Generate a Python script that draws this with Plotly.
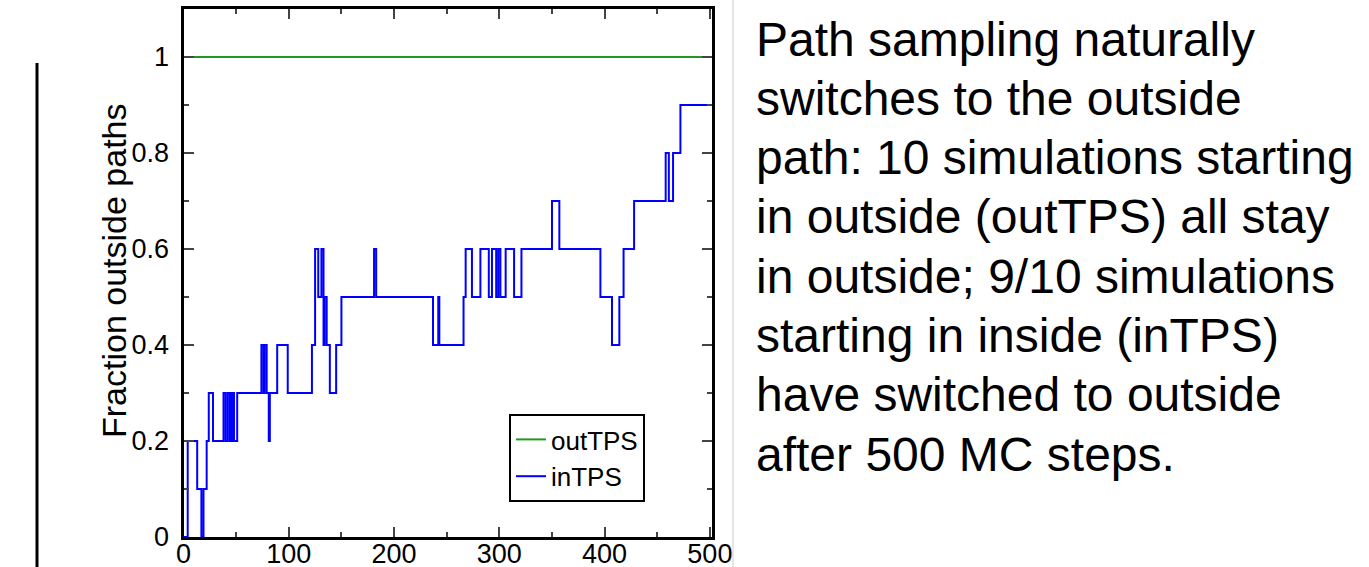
import plotly.graph_objects as go

W, H = 1369, 567


def px(x):
    return x / W


def py(y):
    return 1 - y / H


# ---- data ----
out_x = [0, 500]
out_y = [1.0, 1.0]

# inTPS: step change points (MC step, fraction)
in_x = [0, 4, 13, 17, 19, 22, 24, 28, 38, 40, 42, 44, 45, 46, 47, 48, 51,
        74, 76, 77, 79, 81, 82, 89, 99, 122, 125, 128, 131, 133, 134, 136,
        139, 145, 150, 181, 183, 237, 242, 243, 266, 268, 274, 282, 290,
        293, 297, 299, 301, 306, 314, 321, 350, 357, 396, 407, 414, 418,
        428, 458, 461, 465, 472, 500]
in_y = [0.0, 0.2, 0.1, 0.0, 0.1, 0.2, 0.3, 0.2, 0.3, 0.2, 0.3, 0.2, 0.3, 0.2, 0.3, 0.2, 0.3,
        0.4, 0.3, 0.4, 0.3, 0.2, 0.3, 0.4, 0.3, 0.4, 0.6, 0.5, 0.6, 0.4, 0.5, 0.4,
        0.3, 0.4, 0.5, 0.6, 0.5, 0.4, 0.5, 0.4, 0.5, 0.6, 0.5, 0.6, 0.5,
        0.6, 0.5, 0.6, 0.5, 0.6, 0.5, 0.6, 0.7, 0.6, 0.5, 0.4, 0.5, 0.6,
        0.7, 0.8, 0.7, 0.8, 0.9, 0.9]

x_ticks = [0, 100, 200, 300, 400, 500]
y_ticks = [0, 0.2, 0.4, 0.6, 0.8, 1.0]
y_tick_text = ["0", "0.2", "0.4", "0.6", "0.8", "1"]

text_lines = [
    "Path sampling naturally",
    "switches to the outside",
    "path: 10 simulations starting",
    "in outside (outTPS) all stay",
    "in outside; 9/10 simulations",
    "starting in inside (inTPS)",
    "have switched to outside",
    "after 500 MC steps.",
]

REG = "Liberation Sans, Arial, Helvetica, sans-serif"

fig = go.Figure()
fig.add_trace(go.Scatter(x=out_x, y=out_y, mode="lines", name="outTPS",
                         line=dict(color="#1f9a1f", width=2)))
fig.add_trace(go.Scatter(x=in_x, y=in_y, mode="lines", name="inTPS",
                         line=dict(color="#0000ff", width=2, shape="hv")))

x0, x1 = 183.5, 712
y_top, y_bot = 9, 537

fig.update_layout(
    width=W, height=H, autosize=False,
    margin=dict(l=0, r=0, t=0, b=0, pad=0),
    paper_bgcolor="white", plot_bgcolor="white",
    font=dict(family=REG, color="black"),
    xaxis=dict(domain=[px(x0), px(x1)], range=[0, 502], tickvals=x_ticks,
               automargin=False,
               ticks="inside", ticklen=10, tickwidth=1.5, tickcolor="#444",
               minor=dict(dtick=50, tick0=0, ticks="inside", ticklen=5, tickcolor="#444", tickwidth=1.5),
               showline=True, linecolor="black", linewidth=3, mirror="allticks",
               showgrid=False, zeroline=False, tickfont=dict(size=27, family=REG),
               ticklabelstandoff=-9),
    yaxis=dict(domain=[py(y_bot), py(y_top)], range=[0, 1.1],
               tickvals=y_ticks, ticktext=y_tick_text,
               automargin=False,
               ticks="inside", ticklen=10, tickwidth=1.5, tickcolor="#444",
               minor=dict(dtick=0.1, tick0=0, ticks="inside", ticklen=5, tickcolor="#444", tickwidth=1.5),
               showline=True, linecolor="black", linewidth=3, mirror="allticks",
               showgrid=False, zeroline=False, tickfont=dict(size=27, family=REG),
               ticklabelstandoff=6),
    legend=dict(x=px(509), y=py(414), xanchor="left", yanchor="top",
                bgcolor="white", bordercolor="black", borderwidth=2,
                font=dict(size=26, family=REG), itemwidth=30, tracegroupgap=0),
    showlegend=True,
)

# y-axis title
fig.add_annotation(text="Fraction outside paths", xref="paper", yref="paper",
                   x=px(114), y=py(271), xanchor="center", yanchor="middle",
                   textangle=-90, showarrow=False, font=dict(size=34, family=REG))

# right-hand text
for i, line in enumerate(text_lines):
    yc = 39 + 59.3 * i
    fig.add_annotation(text=line, xref="paper", yref="paper",
                       x=px(754), y=py(yc), xanchor="left", yanchor="middle",
                       showarrow=False, font=dict(size=48, family=REG))

# decorative lines
fig.add_shape(type="line", xref="paper", yref="paper", x0=px(37), x1=px(37),
              y0=0, y1=py(63), line=dict(color="black", width=3))
fig.add_shape(type="line", xref="paper", yref="paper", x0=px(733), x1=px(733),
              y0=0, y1=1, line=dict(color="#cccccc", width=1))

fig.write_html("out.html")
